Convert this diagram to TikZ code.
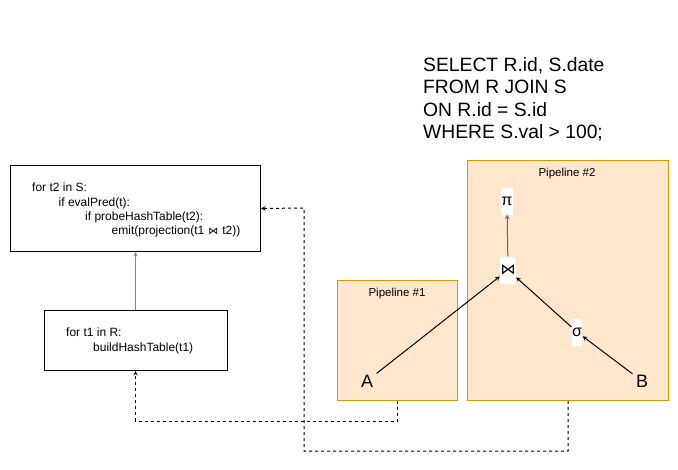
\documentclass[tikz,border=0pt]{standalone}
\usepackage{fontspec}
\setmainfont{Liberation Sans}
\newfontfamily\symfont{DejaVu Sans}
\usetikzlibrary{arrows}
\definecolor{pipefill}{HTML}{FFE6CC}
\definecolor{pipedraw}{HTML}{D79B00}
\definecolor{purpleline}{HTML}{9673A6}
\definecolor{grayline}{HTML}{666666}
\tikzstyle{codebox} = [rectangle, draw, line width=1pt, anchor=north west, inner sep=0pt]
\tikzstyle{code} = [anchor=north west, align=left, inner sep=0pt, font=\fontsize{12}{14.3}\selectfont]
\tikzstyle{pipe} = [rectangle, draw=pipedraw, fill=pipefill, line width=1pt, anchor=north west, inner sep=0pt]
\tikzstyle{op} = [fill=white, inner xsep=0.5pt, minimum height=27pt, font=\fontsize{16}{18}\selectfont]
\tikzstyle{rel} = [font=\fontsize{18}{20}\selectfont]
\tikzstyle{arrow} = [line width=1pt,->,>=stealth]
\tikzstyle{dep} = [line width=1pt,->,>=stealth,dash pattern=on 3pt off 3pt]

\begin{document}
\begin{tikzpicture}[x=1pt,y=-1pt]
  \useasboundingbox (0,0) rectangle (678,469);

  % query
  \node (query) [anchor=north west, align=left, inner sep=0pt, font=\fontsize{19.3}{22.5}\selectfont] at (423,57)
    {SELECT R.id, S.date\\FROM R JOIN S\\ON R.id = S.id\\WHERE S.val > 100;};

  % generated code
  \node (probe) [codebox, minimum width=250pt, minimum height=86pt] at (10,165) {};
  \node (probetext) [code] at (32,183)
    {for t2 in S:\\
     \hspace*{26.5pt}if evalPred(t):\\
     \hspace*{53pt}if probeHashTable(t2):\\
     \hspace*{79.5pt}emit(projection(t1\hspace{4pt}{\symfont\fontsize{10}{10}\selectfont ⋈}\hspace{4pt}t2))};
  \node (build) [codebox, minimum width=183pt, minimum height=60pt] at (44,310) {};
  \node (buildtext) [code, font=\fontsize{12}{15}\selectfont] at (66,328)
    {for t1 in R:\\
     \hspace*{27pt}buildHashTable(t1)};

  % pipelines
  \node (pipe1) [pipe, minimum width=120pt, minimum height=120pt] at (337,280) {};
  \node (pipe2) [pipe, minimum width=201pt, minimum height=240pt] at (467,160) {};
  \node (label1) [font=\fontsize{11.5}{12}\selectfont] at (397,294) {Pipeline \#1};
  \node (label2) [font=\fontsize{11.5}{12}\selectfont] at (567,174) {Pipeline \#2};

  % plan
  \node (proj) [op] at (507,201) {π};
  \node (join) [op, font=\symfont\fontsize{15}{18}\selectfont] at (508,270) {⋈};
  \node (sel) [op] at (577,332) {σ};
  \node (A) [rel] at (367,381) {A};
  \node (B) [rel] at (642,381) {B};

  \draw [arrow] (A) -- (join);
  \draw [arrow] (sel) -- (join);
  \draw [arrow] (B) -- (sel);
  \draw [arrow, grayline] (join) -- (proj);
  \draw [arrow, purpleline] (build.north -| probe.south) -- (probe.south);

  % dependencies
  \coordinate (turn) at (304,208);
  \draw [dep] (pipe1.south) -- ++(0,20) -| (build.south -| 135.5,0);
  \draw [dep] (pipe2.south) -- ++(0,50) -| (turn) -- (probe.east);
\end{tikzpicture}
\end{document}
